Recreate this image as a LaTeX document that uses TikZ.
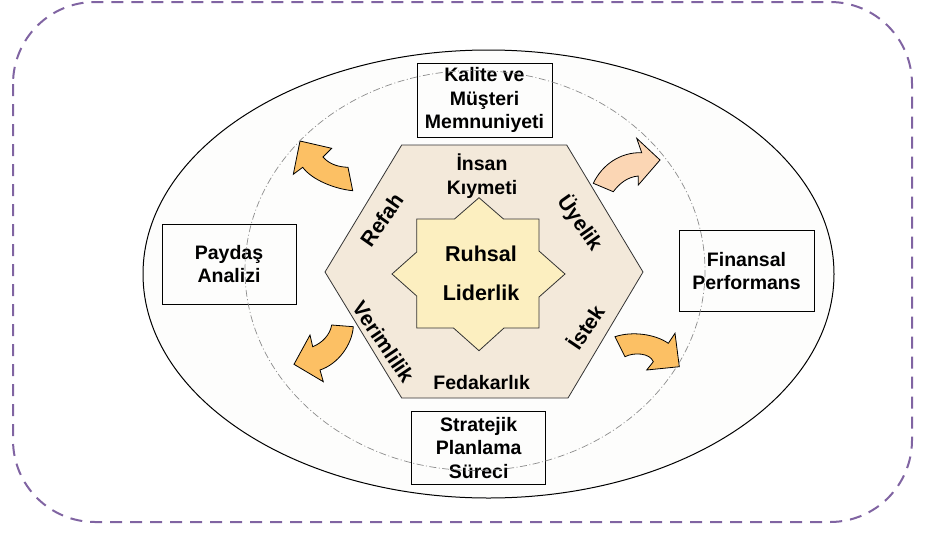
\documentclass[tikz,border=0pt]{standalone}
\usepackage{fontspec}
\setmainfont{Liberation Sans}
\definecolor{framepurple}{RGB}{128,100,162}
\definecolor{ellipsefill}{RGB}{253,253,252}
\definecolor{hexfill}{RGB}{243,233,218}
\definecolor{starfill}{RGB}{252,239,192}
\definecolor{arroworange}{RGB}{252,192,100}
\definecolor{arrowpeach}{RGB}{251,214,180}
\definecolor{orbitgray}{RGB}{140,140,140}
\begin{document}
\begin{tikzpicture}[x=1pt,y=-1pt,
  lbl/.style={font=\bfseries\fontsize{19.5}{23.5}\selectfont, align=center, inner sep=0pt},
  sidelbl/.style={font=\bfseries\fontsize{21}{24}\selectfont, inner sep=0pt},
  biglbl/.style={font=\bfseries\fontsize{21.5}{39}\selectfont, align=center, inner sep=0pt},
  infobox/.style={draw=black, line width=0.9pt, lbl},
  blockarrow/.style={draw=black, line width=0.8pt, line join=miter},
  orbit/.style={draw=orbitgray, line width=0.7pt, dash pattern=on 7pt off 2.5pt on 1pt off 2.5pt}
]
\useasboundingbox (0,0) rectangle (925,533);

% dashed frame
\draw[framepurple, line width=2pt, dash pattern=on 12pt off 8pt, rounded corners=82pt]
  (13,2) rectangle (912,522);

% outer ellipse
\draw[black, line width=1pt, fill=ellipsefill] (488.5,274) ellipse [x radius=345.5, y radius=224];

% hexagon
\draw[fill=hexfill, draw=black!80, line width=0.8pt]
  (401.7,145) -- (566.7,145) -- (643,272) -- (568,398) -- (401.7,398) -- (325,272) -- cycle;

% eight-pointed star
\draw[fill=starfill, draw=black!80, line width=0.8pt]
  (479,197.7) -- (503.5,219) -- (539,219) -- (539,251) -- (565,274) -- (539,297)
  -- (539,328) -- (504,328) -- (479,350.7) -- (453.5,328) -- (416.7,328) -- (416.7,296)
  -- (392,274) -- (416.7,252) -- (416.7,219) -- (454.5,219) -- cycle;

% curved block arrows
\draw[blockarrow, fill=arroworange]
  (300,141) -- (331.7,148.3) -- (323,157)
  .. controls (329,164) and (338,167) .. (348,167.3)
  -- (352.7,190.7)
  .. controls (335,189) and (312,180) .. (302.7,167.3)
  -- (293.3,174.3) -- cycle;

\draw[blockarrow, fill=arrowpeach]
  (593.3,183.3) .. controls (602,165) and (620,152) .. (641.7,152.7)
  -- (636.7,138.3) -- (660,160) -- (638.3,185) -- (638.3,176)
  .. controls (627,177) and (619,184) .. (613.3,191.7) -- cycle;

\draw[blockarrow, fill=arroworange]
  (331.7,325) -- (353.3,326.7)
  .. controls (352,345) and (338,364) .. (320,370)
  -- (323.3,381.7) -- (294,364.3) -- (310,335) -- (312.7,346.7)
  .. controls (322,343) and (330,335) .. (331.7,325) -- cycle;

\draw[blockarrow, fill=arroworange]
  (615,336.7) .. controls (632,331) and (655,334) .. (668.3,343.3)
  -- (675,333.3) -- (679.3,366.7) -- (646.7,370) -- (653.3,361.7)
  .. controls (650,353) and (634,352) .. (625,356.7) -- cycle;

% surrounding boxes
\node[infobox, minimum width=135pt, minimum height=74pt] (kalite) at (484.5,100)
  {Kalite ve\\Müşteri\\Memnuniyeti};
\node[infobox, minimum width=134pt, minimum height=80pt] (paydas) at (229,264)
  {Paydaş\\Analizi};
\node[infobox, minimum width=135pt, minimum height=81pt] (finans) at (746.5,271)
  {Finansal\\Performans};
\node[infobox, minimum width=134pt, minimum height=73pt] (strateji) at (478.7,448)
  {Stratejik\\Planlama\\Süreci};

% dash-dot orbit
\draw[orbit] (475,270.5) ellipse [x radius=230, y radius=200];

% labels on the hexagon
\node[lbl] (insan) at (482,176) {İnsan\\Kıymeti};
\node[lbl, anchor=base] (fedakarlik) at (481.7,389) {Fedakarlık};
\node[sidelbl, rotate=55] (refah) at (381.7,220) {Refah};
\node[sidelbl, rotate=-55] (uyelik) at (580,223) {Üyelik};
\node[sidelbl, rotate=-56] (verimlilik) at (383.5,342) {Verimlilik};
\node[sidelbl, rotate=56] (istek) at (585,326.7) {İstek};

% centre label
\node[biglbl] (ruhsal) at (481,273.5) {Ruhsal\\Liderlik};
\end{tikzpicture}
\end{document}
